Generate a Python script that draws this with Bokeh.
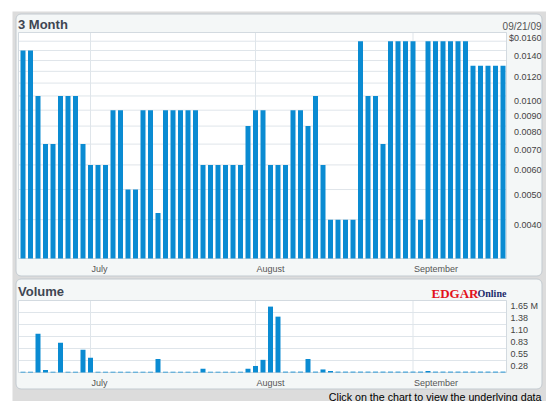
import math
import pandas as pd
from bokeh.plotting import figure
from bokeh.models import Range1d, LinearScale, LogScale
from bokeh.core.properties import value
from bokeh.embed import file_html
from bokeh.resources import INLINE

# ---------------- data ----------------
holidays = ["2009-07-03", "2009-09-07"]
trade_dates = [d for d in pd.bdate_range("2009-06-18", "2009-09-18").strftime("%Y-%m-%d")
               if d not in holidays]

price = [0.014, 0.014, 0.010, 0.007, 0.007, 0.010, 0.010, 0.010, 0.007, 0.006,
         0.006, 0.006, 0.009, 0.009, 0.005, 0.005, 0.009, 0.009, 0.0042, 0.009,
         0.009, 0.009, 0.009, 0.009, 0.006, 0.006, 0.006, 0.006, 0.006, 0.006,
         0.008, 0.009, 0.009, 0.006, 0.006, 0.006, 0.009, 0.009, 0.008, 0.010,
         0.006, 0.004, 0.004, 0.004, 0.004, 0.015, 0.010, 0.010, 0.007, 0.015,
         0.015, 0.015, 0.015, 0.004, 0.015, 0.015, 0.015, 0.015, 0.015, 0.015,
         0.0125, 0.0125, 0.0125, 0.0125, 0.0125]

volume_m = [0.02, 0.02, 0.89, 0.06, 0.02, 0.68, 0.02, 0.02, 0.52, 0.34,
            0.02, 0.02, 0.02, 0.02, 0.02, 0.02, 0.02, 0.02, 0.31, 0.02,
            0.02, 0.02, 0.02, 0.02, 0.085, 0.02, 0.02, 0.02, 0.02, 0.02,
            0.085, 0.15, 0.29, 1.51, 1.28, 0.02, 0.02, 0.02, 0.31, 0.02,
            0.07, 0.035, 0.02, 0.02, 0.02, 0.02, 0.02, 0.02, 0.02, 0.02,
            0.02, 0.02, 0.02, 0.02, 0.035, 0.02, 0.02, 0.02, 0.02, 0.02,
            0.02, 0.02, 0.02, 0.02, 0.02]

price_tick_values = [0.004, 0.005, 0.006, 0.007, 0.008, 0.009, 0.010, 0.012, 0.014, 0.016]
price_tick_labels = ["0.0040", "0.0050", "0.0060", "0.0070", "0.0080", "0.0090",
                     "0.0100", "0.0120", "0.0140", "$0.0160"]
price_grid_values = [0.003, 0.004, 0.005, 0.006, 0.007, 0.008, 0.009, 0.010,
                     0.011, 0.012, 0.013, 0.014, 0.015, 0.016]
volume_tick_values = [0.275, 0.55, 0.825, 1.1, 1.375, 1.65]
volume_tick_labels = ["0.28", "0.55", "0.83", "1.10", "1.38", "1.65 M"]
volume_grid_values = [0.0, 0.275, 0.55, 0.825, 1.1, 1.375, 1.65]
month_names = ["July", "August", "September"]
chart_title = "3 Month"
volume_title = "Volume"
chart_date = "09/21/09"
logo_main, logo_sub = "EDGAR", "Online"
footer_text = "Click on the chart to view the underlying data"

idx = list(range(len(trade_dates)))
month_ticks = [i for i in idx[1:] if trade_dates[i][5:7] != trade_dates[i - 1][5:7]]

# ---------------- style / layout (page pixels) ----------------
FONT = "Liberation Sans"
SERIF = "Liberation Serif"
BAR = "#0a8bd2"
GRID = "#dfe5ea"
OUTLINE = "#d3dae0"
PANEL = "#f4f7f7"
PANEL_LINE = "#c3cad0"
BG = "#dcdcdc"
TXT = "#444444"
TITLE = "#3f4652"

W, H = 546, 401            # figure fills the window
X0, Y0 = 0, 0
BAR0_PX, PITCH = 22.5, 7.5  # centre of first bar, bar pitch
BAR_W = 5 / 7.5
PLOT_L, PLOT_R = 18, 506
P_TOP, P_BOT = 32, 258      # price plot area
V_TOP, V_BOT = 300, 372     # volume plot area


def x_of(px):
    return (px - BAR0_PX) / PITCH


p_lo, p_hi = price_grid_values[0], price_grid_values[-1]
k = (P_BOT - P_TOP) / math.log(p_hi / p_lo)
y_start = p_lo * math.exp(-(Y0 + H - P_BOT) / k)
y_end = p_hi * math.exp((P_TOP - Y0) / k)

v_lo, v_hi = volume_grid_values[0], volume_grid_values[-1]
s = (V_BOT - V_TOP) / (v_hi - v_lo)
v_start = v_lo - (Y0 + H - V_BOT) / s
v_end = v_hi + (V_TOP - Y0) / s

p = figure(width=W, height=H, x_range=Range1d(x_of(X0), x_of(X0 + W)),
           y_range=Range1d(y_start, y_end), x_axis_type=None, y_axis_type="log",
           y_axis_location=None, output_backend="svg", toolbar_location=None,
           min_border=0, outline_line_color=None,
           background_fill_color="white", border_fill_color="white")
p.y_scale = LogScale()
p.grid.visible = False
p.extra_x_ranges = {"px": Range1d(X0, X0 + W)}
p.extra_y_ranges = {"py": Range1d(Y0 + H, Y0), "vol": Range1d(v_start, v_end)}
p.extra_y_scales = {"py": LinearScale(), "vol": LinearScale()}

PX = dict(x_range_name="px", y_range_name="py")
VOL = dict(y_range_name="vol")

# background and panels
p.quad(left=12, right=X0 + W, top=11, bottom=Y0 + H, fill_color=BG, line_color=None, **PX)
p.quad(left=[15.5, 15.5], right=[541.5, 541.5], top=[13.5, 278.5], bottom=[275.5, 388.5],
       border_radius=5, fill_color=PANEL, line_color=PANEL_LINE, line_width=1, **PX)

xl, xr = x_of(PLOT_L), x_of(PLOT_R)

# price plot area
p.quad(left=xl, right=xr, bottom=p_lo, top=p_hi, fill_color="white", line_color=None)
p.segment(x0=[xl] * len(price_grid_values), x1=[xr] * len(price_grid_values),
          y0=price_grid_values, y1=price_grid_values, line_color=GRID, line_width=1)
p.segment(x0=month_ticks, x1=month_ticks, y0=[p_lo] * len(month_ticks),
          y1=[p_hi] * len(month_ticks), line_color=GRID, line_width=1)
p.quad(left=xl, right=xr, bottom=p_lo, top=p_hi, fill_color=None, line_color=OUTLINE)
p.vbar(x=idx, top=price, bottom=p_lo, width=BAR_W, fill_color=BAR, line_color=None)

# volume plot area
p.quad(left=xl, right=xr, bottom=v_lo, top=v_hi, fill_color="white", line_color=None, **VOL)
p.segment(x0=[xl] * len(volume_grid_values), x1=[xr] * len(volume_grid_values),
          y0=volume_grid_values, y1=volume_grid_values, line_color=GRID, line_width=1, **VOL)
p.segment(x0=month_ticks, x1=month_ticks, y0=[v_lo] * len(month_ticks),
          y1=[v_hi] * len(month_ticks), line_color=GRID, line_width=1, **VOL)
p.quad(left=xl, right=xr, bottom=v_lo, top=v_hi, fill_color=None, line_color=OUTLINE, **VOL)
p.vbar(x=idx, top=volume_m, bottom=v_lo, width=BAR_W, fill_color=BAR, line_color=None, **VOL)

# tick labels
p.text(x=[xr] * len(price_tick_values), y=price_tick_values, text=price_tick_labels,
       x_offset=35, y_offset=5.5, text_align="right", text_baseline="middle",
       text_font=value(FONT), text_font_size="9px", text_color=TXT)
p.text(x=[xr] * len(volume_tick_values), y=volume_tick_values, text=volume_tick_labels,
       x_offset=4, y_offset=5.5, text_align="left", text_baseline="middle",
       text_font=value(FONT), text_font_size="9px", text_color=TXT, **VOL)
p.text(x=month_ticks, y=[p_lo] * len(month_ticks), text=month_names,
       x_offset=1, y_offset=10, text_align="left", text_baseline="middle",
       text_font=value(FONT), text_font_size="9px", text_color="#555555")
p.text(x=month_ticks, y=[v_lo] * len(month_ticks), text=month_names,
       x_offset=1, y_offset=10, text_align="left", text_baseline="middle",
       text_font=value(FONT), text_font_size="9px", text_color="#555555", **VOL)

# headers, logo, footer
p.text(x=[17.5, 17.5], y=[24, 291], text=[chart_title, volume_title],
       text_align="left", text_baseline="middle", text_font=value(FONT),
       text_font_size="13px", text_font_style="bold", text_color=TITLE, **PX)
p.text(x=[541], y=[25.5], text=[chart_date], text_align="right", text_baseline="middle",
       text_font=value(FONT), text_font_size="10px", text_color="#555555", **PX)
p.text(x=[431], y=[292.5], text=[logo_main], text_align="left", text_baseline="alphabetic",
       text_font=value(SERIF), text_font_size="13px", text_font_style="bold",
       text_color="#e3121b", **PX)
p.text(x=[477], y=[292.5], text=[logo_sub], text_align="left", text_baseline="alphabetic",
       text_font=value(SERIF), text_font_size="10px", text_font_style="bold",
       text_color="#1d2c6b", **PX)
p.text(x=[541], y=[396], text=[footer_text], text_align="right", text_baseline="middle",
       text_font=value(FONT), text_font_size="10.7px", text_color="#000000", **PX)

open("out.html", "w").write(file_html(p, INLINE))
